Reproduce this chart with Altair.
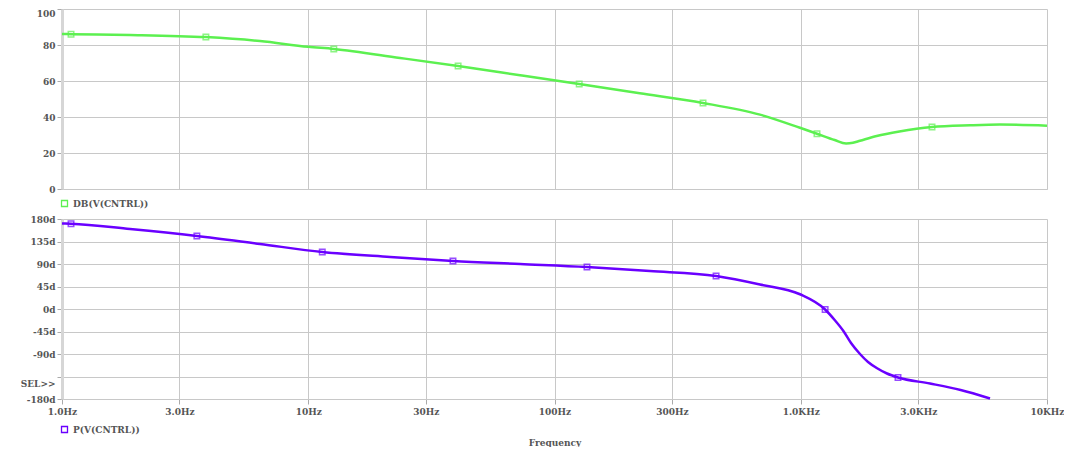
import json
import altair as alt
import pandas as pd

# ---- data ----
db_freq = [1.0, 1.088, 1.89, 3.84, 6.37, 10.0, 12.7, 23.6, 40.6, 72.5, 126, 222, 401, 683,
           993, 1164, 1373, 1528, 1630, 1740, 2034, 2515, 3412, 4880, 6440, 10000]
db_vals = [86.1, 86.0, 85.6, 84.4, 82.2, 79.0, 77.8, 72.8, 68.3, 63.2, 58.3, 53.2, 47.8, 41.3,
           34.0, 30.7, 27.2, 25.3, 25.7, 26.8, 29.4, 31.9, 34.4, 35.4, 35.8, 35.2]
db_mark_freq = [1.088, 3.84, 12.7, 40.6, 126, 401, 1164, 3412]
db_mark_vals = [86.0, 84.4, 77.8, 68.3, 58.3, 47.8, 30.7, 34.4]

ph_freq = [1.0, 1.088, 1.89, 3.53, 6.37, 11.4, 21.5, 38.7, 72.5, 135.5, 244, 453, 683, 993,
           1256, 1373, 1490, 1600, 1740, 1876, 2034, 2240, 2483, 3350, 4460, 5870]
ph_vals = [171, 170.5, 160, 146, 130, 114, 104, 96, 90, 84, 76, 66, 49, 29.5,
           -1, -22, -44, -68, -90, -106, -118, -129, -137, -149, -162, -179]
ph_mark_freq = [1.088, 3.53, 11.4, 38.7, 135.5, 453, 1256, 2483]
ph_mark_vals = [170.5, 146, 114, 96, 84, 66, -1, -137]

freq_ticks = [1, 3, 10, 30, 100, 300, 1000, 3000, 10000]
freq_labels = ["1.0Hz", "3.0Hz", "10Hz", "30Hz", "100Hz", "300Hz", "1.0KHz", "3.0KHz", "10KHz"]
db_ticks = [0, 20, 40, 60, 80, 100]
ph_ticks = [-180, -135, -90, -45, 0, 45, 90, 135, 180]
ph_labels = ["-180d", "SEL>>", "-90d", "-45d", "0d", "45d", "90d", "135d", "180d"]

db_name = "DB(V(CNTRL))"
ph_name = "P(V(CNTRL))"
GREEN = "#5cf050"
PURPLE = "#6a00ff"

FONT = "DejaVu Serif"
LABEL_COLOR = "#555555"
GRID = "#c8c8c8"


def label_expr(ticks, labels):
    d = {str(t): l for t, l in zip(ticks, labels)}
    return json.dumps(d) + "[datum.value]"


db_df = pd.DataFrame({"f": db_freq, "v": db_vals, "s": db_name})
db_m = pd.DataFrame({"f": db_mark_freq, "v": db_mark_vals, "s": db_name})
ph_df = pd.DataFrame({"f": ph_freq, "v": ph_vals, "s": ph_name})
ph_m = pd.DataFrame({"f": ph_mark_freq, "v": ph_mark_vals, "s": ph_name})

xscale = alt.Scale(type="log", domain=[1, 10000], nice=False)


def legend(y):
    return alt.Legend(orient="none", legendX=-2, legendY=y, title=None, symbolType="square",
                      symbolFillColor="white", symbolStrokeWidth=1.3, symbolSize=36,
                      labelFont=FONT, labelFontSize=9, labelColor=LABEL_COLOR, labelFontWeight="bold")


yaxis_common = dict(grid=True, gridColor=GRID, domainColor="#d6d6d6", domainWidth=3,
                    tickColor="#aaaaaa", tickSize=5, labelFont=FONT, labelFontSize=9,
                    labelFontWeight="bold", labelColor=LABEL_COLOR, labelPadding=2,
                    minExtent=54, maxExtent=54, title=None)

top_x = alt.X("f:Q", scale=xscale, axis=alt.Axis(values=freq_ticks, labels=False, ticks=False,
                                                 grid=True, gridColor=GRID, domainColor=GRID,
                                                 title=None, minExtent=0, maxExtent=0))
top_y = alt.Y("v:Q", scale=alt.Scale(domain=[0, 100], nice=False),
              axis=alt.Axis(values=db_ticks,
                            labelBaseline={"condition": {"test": "datum.value == 100", "value": "top"},
                                           "value": "middle"},
                            **yaxis_common))
top_color = alt.Color("s:N", scale=alt.Scale(domain=[db_name], range=[GREEN]), legend=legend(190))

top = alt.layer(
    alt.Chart(db_df).mark_line(interpolate="monotone", strokeWidth=2.5).encode(x=top_x, y=top_y, color=top_color),
    alt.Chart(db_m).mark_point(shape="square", filled=False, size=30, strokeWidth=1.5).encode(
        x=top_x, y=top_y, color=alt.Color("s:N", scale=alt.Scale(domain=[db_name], range=[GREEN]), legend=None)),
).properties(width=985, height=180)

bot_x = alt.X("f:Q", scale=xscale,
              axis=alt.Axis(values=freq_ticks, labelExpr=label_expr(freq_ticks, freq_labels),
                            grid=True, gridColor=GRID, domainColor=GRID, tickColor="#aaaaaa",
                            tickSize=5, labelFont=FONT, labelFontSize=9, labelFontWeight="bold",
                            labelColor=LABEL_COLOR, labelPadding=3, labelFlush=False,
                            title="Frequency", titleFont=FONT, titleFontSize=9,
                            titleFontWeight="bold", titleColor=LABEL_COLOR, titlePadding=22))
bot_y = alt.Y("v:Q", scale=alt.Scale(domain=[-180, 180], nice=False),
              axis=alt.Axis(values=ph_ticks, labelExpr=label_expr(ph_ticks, ph_labels),
                            labelOffset={"condition": {"test": "datum.value == -135", "value": 7},
                                         "value": 0},
                            **yaxis_common))
bot_color = alt.Color("s:N", scale=alt.Scale(domain=[ph_name], range=[PURPLE]), legend=legend(206))

bot = alt.layer(
    alt.Chart(ph_df).mark_line(interpolate="monotone", strokeWidth=2.5).encode(x=bot_x, y=bot_y, color=bot_color),
    alt.Chart(ph_m).mark_point(shape="square", filled=False, size=30, strokeWidth=1.5).encode(
        x=bot_x, y=bot_y, color=alt.Color("s:N", scale=alt.Scale(domain=[ph_name], range=[PURPLE]), legend=None)),
).properties(width=985, height=180)

chart = alt.vconcat(top, bot, spacing=30, bounds="flush").resolve_scale(color="independent").resolve_legend(
    color="independent").configure_view(strokeWidth=0).properties(padding=0, background="white")

chart.save("out.html", embed_options={"renderer": "svg", "actions": False})
